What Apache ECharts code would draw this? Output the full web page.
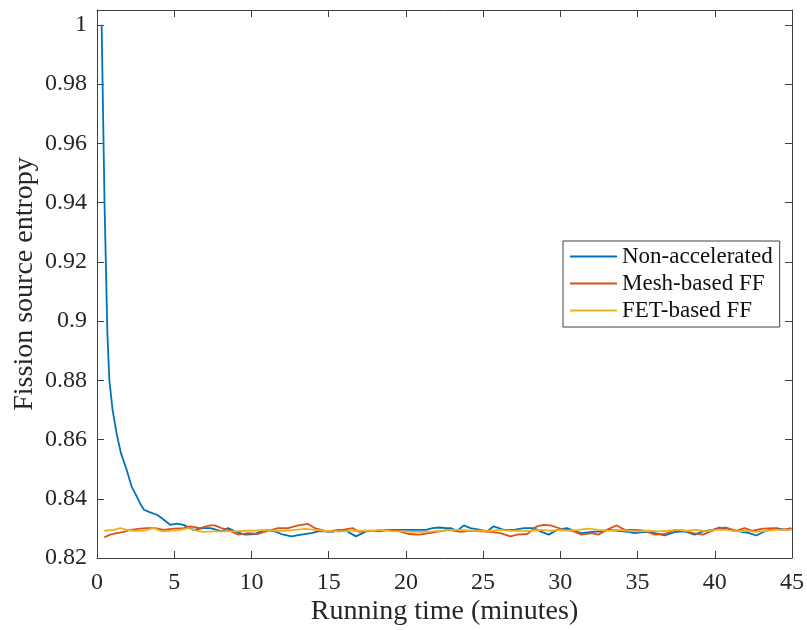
<!DOCTYPE html>
<html>
<head>
<meta charset="utf-8">
<script src="https://cdn.jsdelivr.net/npm/echarts@6/dist/echarts.min.js"></script>
<style>html,body{margin:0;padding:0;background:#fff;}#c{width:807px;height:630px;}</style>
</head>
<body>
<div id="c"></div>
<script>
const seriesNames = ['Non-accelerated', 'Mesh-based FF', 'FET-based FF'];
const xTicks = [0, 5, 10, 15, 20, 25, 30, 35, 40, 45];
const yTicks = [0.82, 0.84, 0.86, 0.88, 0.9, 0.92, 0.94, 0.96, 0.98, 1];

const blueT = [0.3,0.49,0.58,0.67,0.8,1.01,1.27,1.55,1.92,2.24,2.57,2.78,3.04,3.4,3.88,4.18,4.74,5.15,5.6,6.25,6.9,7.33,7.76,
  8.06,8.49,8.92,9.57,10.22,10.86,11.51,11.94,12.59,13.23,13.88,14.31,14.96,
  15.26,15.69,16.12,16.77,17.42,18.06,18.71,19.35,20.0,20.65,21.3,21.73,22.16,22.59,
  22.89,23.32,23.75,24.18,24.83,25.26,25.69,26.34,26.98,27.63,28.28,28.71,29.25,29.79,30.43,
  30.95,31.38,32.03,32.68,33.11,33.75,34.4,34.83,35.48,36.12,36.77,37.42,38.06,
  38.69,39.23,39.87,40.3,40.95,41.6,42.24,42.68,43.32,43.97,44.62,44.98];
const blueV = [1.0,0.939,0.918,0.896,0.880,0.870,0.862,0.8554,0.8498,0.8441,0.8408,0.8385,0.8363,0.8355,0.8346,0.8335,0.8312,0.8316,0.8312,0.8295,0.8301,0.8301,0.8295,
  0.8290,0.8301,0.8290,0.8279,0.8281,0.8295,0.8290,0.8281,0.8273,0.8279,0.8284,0.8290,0.8290,
  0.8288,0.8295,0.8292,0.8273,0.8290,0.8292,0.8295,0.8295,0.8295,0.8295,0.8295,0.8301,0.8303,0.8301,
  0.8301,0.8292,0.8310,0.8301,0.8295,0.8290,0.8307,0.8295,0.8295,0.8301,0.8301,0.8290,0.8279,0.8295,0.8301,
  0.8290,0.8284,0.8288,0.8290,0.8295,0.8292,0.8288,0.8284,0.8288,0.8284,0.8276,0.8288,0.8290,
  0.8279,0.8290,0.8295,0.8303,0.8295,0.8290,0.8284,0.8276,0.8292,0.8301,0.8295,0.8299];

const orangeT = [0.47,0.86,1.29,1.72,2.16,2.8,3.23,3.77,4.31,4.96,5.6,6.03,6.68,7.33,
  7.63,8.06,8.49,9.14,9.79,10.43,11.08,11.72,12.37,13.02,13.66,14.1,14.53,14.96,
  15.26,15.91,16.55,16.98,17.63,18.28,18.92,19.57,20.22,20.86,21.51,22.16,22.8,
  23.54,24.18,24.83,25.48,26.12,26.77,27.2,27.85,28.49,28.92,29.36,29.79,30.22,
  30.52,30.95,31.38,32.03,32.46,33.11,33.65,34.18,34.83,35.48,36.12,36.77,37.42,38.06,
  38.58,39.23,39.66,40.3,40.74,41.38,41.92,42.46,43.11,43.75,44.4,44.94];
const orangeV = [0.8270,0.8279,0.8284,0.8288,0.8295,0.8299,0.8301,0.8301,0.8295,0.8299,0.8301,0.8307,0.8301,0.8310,
  0.8310,0.8301,0.8295,0.8279,0.8284,0.8281,0.8292,0.8301,0.8301,0.8310,0.8315,0.8301,0.8295,0.8288,
  0.8292,0.8295,0.8301,0.8288,0.8292,0.8290,0.8295,0.8290,0.8281,0.8279,0.8284,0.8290,0.8295,
  0.8288,0.8292,0.8290,0.8288,0.8284,0.8273,0.8279,0.8281,0.8307,0.8312,0.8310,0.8303,0.8295,
  0.8295,0.8288,0.8279,0.8284,0.8279,0.8298,0.8310,0.8295,0.8295,0.8292,0.8279,0.8281,0.8295,0.8292,
  0.8284,0.8279,0.8288,0.8301,0.8303,0.8292,0.8301,0.8292,0.8299,0.8301,0.8295,0.8301];

const yellowT = [0.47,1.08,1.51,1.94,2.37,3.02,3.66,4.2,4.74,5.39,5.93,6.47,6.9,7.54,
  8.28,8.92,9.57,10.22,10.86,11.51,12.16,12.8,13.45,14.1,14.74,
  15.26,15.91,16.55,17.2,17.85,18.49,19.14,19.79,20.43,21.08,21.73,22.37,
  22.89,23.54,24.18,24.83,25.48,26.12,26.77,27.42,28.06,28.71,29.36,30.0,
  30.52,31.17,31.81,32.46,33.11,33.75,34.4,35.05,35.69,36.34,36.99,37.63,
  38.15,38.8,39.44,40.09,40.74,41.38,42.03,42.68,43.32,43.97,44.62,44.94];
const yellowV = [0.8292,0.8295,0.8301,0.8295,0.8292,0.8292,0.8301,0.8290,0.8292,0.8295,0.8301,0.8292,0.8288,0.8290,
  0.8290,0.8290,0.8292,0.8292,0.8295,0.8292,0.8292,0.8295,0.8298,0.8295,0.8292,
  0.8290,0.8290,0.8292,0.8292,0.8292,0.8295,0.8290,0.8290,0.8288,0.8288,0.8290,0.8292,
  0.8295,0.8295,0.8292,0.8292,0.8292,0.8295,0.8292,0.8292,0.8292,0.8295,0.8292,0.8295,
  0.8292,0.8295,0.8299,0.8295,0.8292,0.8295,0.8292,0.8290,0.8292,0.8290,0.8292,0.8295,
  0.8292,0.8295,0.8290,0.8295,0.8295,0.8290,0.8292,0.8288,0.8292,0.8295,0.8295,0.8295];

const pairs = (t, v) => t.map((x, i) => [x, v[i]]);
const FONT = '"Liberation Serif", "Times New Roman", serif';
const AX = '#404040';
const TXT = '#262626';

const chart = echarts.init(document.getElementById('c'), null, {renderer: 'canvas'});
const baseX = {
  type: 'value', min: xTicks[0], max: xTicks[xTicks.length - 1], interval: 5,
  axisLine: {show: true, onZero: false, lineStyle: {color: AX, width: 1}},
  axisTick: {show: true, inside: true, length: 7, lineStyle: {color: AX}},
  splitLine: {show: false}
};
const baseY = {
  type: 'value', min: yTicks[0], max: 1.005, interval: 0.02,
  axisLine: {show: true, onZero: false, lineStyle: {color: AX, width: 1}},
  axisTick: {show: true, inside: true, length: 7, lineStyle: {color: AX}},
  splitLine: {show: false}
};
chart.setOption({
  animation: false,
  backgroundColor: '#fff',
  grid: {left: 97, right: 15, top: 10, bottom: 72, containLabel: false, outerBoundsMode: 'none'},
  xAxis: [
    Object.assign({}, baseX, {
      position: 'bottom',
      axisLabel: {show: true, color: TXT, fontFamily: FONT, fontSize: 24, margin: 13},
      name: 'Running time (minutes)', nameLocation: 'middle', nameGap: 40, nameMoveOverlap: false,
      nameTextStyle: {color: TXT, fontFamily: FONT, fontSize: 28}
    }),
    Object.assign({}, baseX, {position: 'top', axisLabel: {show: false}})
  ],
  yAxis: [
    Object.assign({}, baseY, {
      position: 'left',
      axisLabel: {show: true, color: TXT, fontFamily: FONT, fontSize: 24, margin: 10, showMaxLabel: false,
        formatter: v => (v > 1.0001 ? '' : String(+v.toFixed(2)))},
      name: 'Fission source entropy', nameLocation: 'middle', nameGap: 58, nameMoveOverlap: false,
      nameTextStyle: {color: TXT, fontFamily: FONT, fontSize: 28}
    }),
    Object.assign({}, baseY, {position: 'right', axisLabel: {show: false}})
  ],
  legend: {
    orient: 'vertical', left: 563, top: 241,
    data: seriesNames.map(n => ({name: n, icon: 'rect'})),
    itemWidth: 47, itemHeight: 2, itemGap: 4,
    padding: [4, 7, 5, 7],
    borderColor: '#404040', borderWidth: 1, borderRadius: 0,
    backgroundColor: '#fff',
    textStyle: {color: '#111', fontFamily: FONT, fontSize: 23, lineHeight: 23}
  },
  series: [
    {name: seriesNames[0], type: 'line', data: pairs(blueT, blueV), symbol: 'none', lineStyle: {color: '#0072BD', width: 1.8}, itemStyle: {color: '#0072BD'}, z: 2},
    {name: seriesNames[1], type: 'line', data: pairs(orangeT, orangeV), symbol: 'none', lineStyle: {color: '#D95319', width: 1.8}, itemStyle: {color: '#D95319'}, z: 3},
    {name: seriesNames[2], type: 'line', data: pairs(yellowT, yellowV), symbol: 'none', lineStyle: {color: '#EDB120', width: 1.8}, itemStyle: {color: '#EDB120'}, z: 4}
  ]
});
</script>
</body>
</html>
